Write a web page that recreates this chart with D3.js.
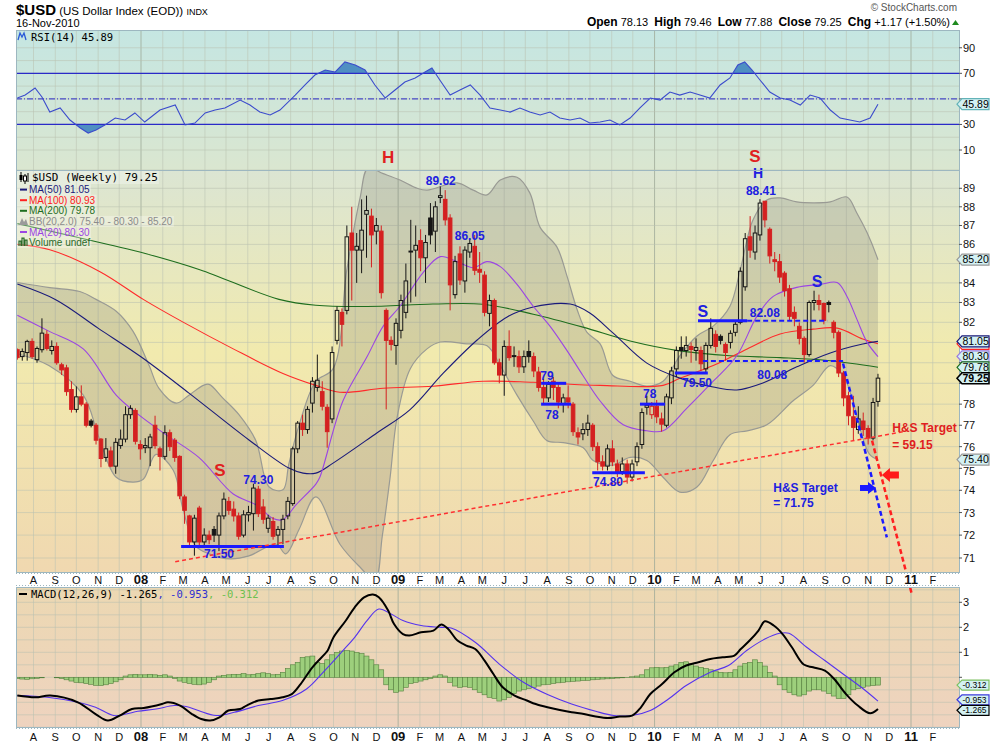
<!DOCTYPE html>
<html>
<head>
<meta charset="utf-8">
<title>$USD Weekly</title>
<script src="https://d3js.org/d3.v7.min.js"></script>
<style>
  body { margin: 0; background: #ffffff; }
  text { font-family: "Liberation Sans", Arial, sans-serif; }
  .mono { font-family: "DejaVu Sans Mono", monospace; }
</style>
</head>
<body>
<svg id="chart" width="990" height="744"></svg>
<script>
// ---------- data: weekly bars, first bar = week of 9 Jul 2007, last = week of 15 Nov 2010
var firstWeek = new Date(2007, 6, 9);

var opens = [80.64,80.3,80.5,81.05,80.15,80.64,81.4,80.6,80.8,79.9,
  79.75,78.7,77.75,78.35,78.0,77.2,77.0,76.35,75.5,75.8,
  75.1,76.05,76.35,77.5,77.7,76.1,75.95,75.95,77.0,75.9,
  75.55,76.65,76.3,75.55,73.7,72.85,71.7,73.2,71.7,72.0,
  72.25,72.0,72.85,73.5,73.15,72.85,72.0,72.9,72.95,74.05,
  73.25,72.3,72.6,72.0,72.25,72.85,73.4,75.9,77.1,76.8,
  78.05,78.8,78.6,77.85,77.3,81.1,82.5,82.6,86.6,85.7,
  85.7,87.6,87.5,86.7,86.7,82.6,81.1,80.85,81.6,82.5,
  85.6,85.7,86.2,85.3,87.4,86.7,88.5,88.4,87.4,83.4,
  85.5,84.1,85.6,85.9,84.7,84.4,82.45,83.1,80.0,79.4,
  80.8,80.3,80.3,79.8,80.55,80.3,79.55,78.8,78.3,79.1,
  78.8,78.0,78.3,78.0,76.65,76.6,76.8,77.0,76.0,75.3,
  75.1,75.9,75.2,74.85,75.2,74.6,75.3,76.1,77.85,77.5,
  77.9,77.3,77.0,78.3,79.7,80.75,80.6,80.8,80.6,80.6,
  79.7,80.85,81.4,81.3,80.9,81.0,81.5,82.0,83.8,86.4,
  85.6,86.5,88.3,86.8,85.2,85.1,84.5,83.7,82.5,81.8,
  81.2,80.4,83.0,83.1,82.95,83.0,82.0,81.5,79.5,78.4,
  77.4,76.8,77.2,76.85,76.4,78.13];
var highs = [80.7,80.7,81.13,81.2,80.8,82.2,81.6,81.1,81.0,80.0,
  79.9,79.1,78.85,78.9,78.1,77.3,77.1,76.4,76.4,76.0,
  76.4,76.8,77.9,77.95,77.8,76.3,76.4,76.6,77.45,76.0,
  77.0,76.8,76.4,75.6,73.8,72.9,72.9,73.3,72.3,72.2,
  72.4,73.0,73.9,73.7,73.5,73.0,73.1,73.3,74.3,74.2,
  73.6,72.9,72.8,72.4,72.9,73.7,76.0,77.2,77.5,77.9,
  79.3,80.4,79.1,78.0,80.8,82.8,82.7,87.0,88.0,86.6,
  88.4,88.6,87.9,87.4,87.0,82.7,81.3,82.2,83.4,85.0,
  87.3,87.0,86.8,86.5,88.2,88.3,89.1,88.9,87.6,85.4,
  85.9,85.9,86.3,86.5,85.6,84.6,83.4,83.2,80.2,81.1,
  81.6,80.8,80.6,80.6,81.1,80.5,79.8,79.2,79.1,79.3,
  79.0,78.5,78.9,78.1,76.9,77.1,77.5,77.1,76.2,75.6,
  76.1,76.3,75.4,75.5,75.4,75.4,76.2,77.8,78.4,78.1,
  78.2,77.6,78.5,79.8,80.8,81.3,81.3,81.0,81.2,80.8,
  81.0,82.2,81.6,81.4,81.0,81.6,82.1,84.8,86.6,87.5,
  87.0,88.41,88.3,86.9,85.6,85.5,84.6,83.9,82.8,82.0,
  81.3,83.1,83.6,83.4,83.0,83.1,82.1,81.6,79.6,78.6,
  78.4,77.9,77.6,77.0,78.3,79.46];
var lows = [80.15,80.1,80.1,80.2,80.0,80.5,80.6,80.4,79.9,79.4,
  78.4,77.6,77.6,77.9,76.9,76.9,76.1,75.05,75.3,75.05,
  74.75,75.9,76.2,77.3,76.1,75.4,75.7,75.1,75.9,74.9,
  75.4,75.8,75.3,73.6,72.5,71.5,71.1,71.5,71.5,71.6,
  71.7,71.3,72.7,72.9,72.6,71.8,71.9,72.6,72.2,72.8,
  72.5,72.1,71.8,71.45,71.6,72.7,73.3,75.7,76.5,76.6,
  77.6,78.6,77.7,75.95,77.1,80.9,80.8,82.4,83.1,84.0,
  84.5,85.3,84.8,86.0,83.2,77.75,80.6,79.9,81.2,82.2,
  83.0,83.3,84.6,84.0,86.0,85.6,88.2,87.0,82.6,83.2,
  83.9,83.5,85.3,84.4,84.0,82.3,81.8,79.9,79.0,78.4,
  80.1,79.8,79.5,79.5,80.0,79.3,78.6,78.0,78.1,78.2,
  77.8,77.6,77.8,76.5,76.1,76.3,76.5,75.8,74.9,74.9,
  74.9,75.1,74.6,74.7,74.3,74.4,75.1,75.9,77.5,77.3,
  77.1,76.7,76.9,78.0,79.3,80.2,80.3,80.0,80.1,79.6,
  79.5,80.7,80.5,80.9,80.1,80.7,81.3,81.9,83.6,85.3,
  85.2,86.2,86.9,85.0,84.6,84.0,83.3,82.1,81.8,80.9,
  80.0,80.3,82.6,82.6,81.9,82.5,81.2,79.3,77.9,77.0,
  76.3,76.6,76.5,76.1,76.3,77.88];
var closes = [80.25,80.55,81.05,80.3,80.7,81.46,80.7,80.8,80.0,79.65,
  78.6,77.75,78.35,78.0,77.0,77.0,76.3,75.45,75.9,75.1,
  76.2,76.35,77.5,77.8,76.25,75.9,76.05,76.45,76.05,75.55,
  76.65,76.0,75.5,73.75,73.1,71.7,72.75,71.7,72.0,71.8,
  72.0,72.85,73.6,73.1,72.85,71.95,72.9,73.0,74.1,72.95,
  72.7,72.75,71.95,72.25,72.7,73.5,75.9,77.1,76.8,77.75,
  79.1,79.15,77.9,76.7,80.5,82.6,81.9,86.4,85.7,85.9,
  86.75,87.8,86.5,87.0,83.5,81.1,80.9,81.95,83.1,84.1,
  85.65,85.95,85.3,86.1,86.5,88.0,88.6,87.3,83.9,85.1,
  84.15,85.7,86.05,84.65,84.55,82.5,83.1,80.0,79.4,80.8,
  80.25,80.35,79.8,80.3,80.3,79.6,78.8,78.3,78.95,78.8,
  78.1,78.3,78.1,76.7,76.45,76.8,77.1,76.0,75.3,75.1,
  75.9,75.3,74.85,75.2,74.6,75.2,76.0,77.6,77.95,77.9,
  77.4,77.05,78.35,79.6,80.6,80.6,80.85,80.65,80.75,79.95,
  80.85,81.7,80.8,81.1,80.5,81.45,81.9,84.6,86.3,85.7,
  86.6,88.2,87.3,85.4,85.1,84.3,83.6,82.3,82.2,81.2,
  80.4,83.0,83.1,82.9,82.1,82.9,81.5,79.5,78.3,77.45,
  76.9,77.3,76.8,76.4,78.08,79.25];

// overlays: [week index, value]
var ma20 = [[0,82.36],[6.4,81.56],[13.4,80.68],[20.1,78.43],[24.7,77.49],[30.2,76.56],[36.9,75.5],
  [43.9,73.83],[48.5,73.35],[52,72.73],[54,72.69],[56.7,73.35],[60.7,74.28],[61.5,74.59],[66.2,78.15],
  [71.1,80.29],[74.4,81.81],[77.8,82.81],[82.5,84.53],[86,85.36],[89.4,85.1],[92.7,84.78],[95.5,85.1],
  [98.2,84.84],[101.6,83.92],[104.9,82.81],[108.3,81.81],[111.8,80.58],[115,79.38],[118.5,78.15],
  [123.2,77.02],[128,76.74],[131.3,76.74],[136.2,77.82],[141.5,79.1],[146.3,80.34],[150.4,82.31],
  [153.7,83.31],[158.5,83.77],[163.2,83.92],[166.7,84.02],[168.7,83.31],[170.7,82.16],[172.8,81.0],[175,80.3]];
var ma50 = [[0,83.94],[7.9,83.13],[16.4,81.71],[25.2,80.28],[34.9,78.53],[47.1,76.31],[55.2,75.01],
  [58.1,74.78],[60.7,74.78],[64.2,75.24],[73.1,76.64],[79.8,77.73],[86.6,79.49],[93.5,81.12],[99.6,82.27],
  [104.9,82.77],[112.4,82.92],[116.4,82.47],[121.1,81.47],[128,79.98],[134.7,79.25],[141.5,78.82],
  [146.3,78.68],[151.6,79.02],[158.5,79.8],[165.3,80.48],[171.9,80.92],[175,81.05]];
var ma100 = [[0,86.0],[6.6,85.72],[16.8,84.58],[25.6,83.16],[33.7,82.01],[43.9,80.68],[54,79.48],
  [60.7,78.9],[65.6,78.57],[74.4,78.76],[84.5,78.86],[94.7,79.1],[104.9,79.05],[118.5,78.9],[131.3,78.9],
  [134.7,79.24],[141.5,79.86],[148.4,80.68],[155.1,81.42],[161.8,81.66],[166.7,81.71],[171.9,81.17],[175,80.93]];
var ma200 = [[0,87.1],[18.7,85.98],[26.2,85.51],[37.1,84.68],[53.2,83.16],[60.7,82.86],[71.1,82.8],
  [84.5,82.92],[94.7,82.91],[104.9,82.41],[115,81.76],[124.6,81.07],[134.7,80.58],[144.9,80.34],
  [155.1,80.25],[165.3,80.1],[175,79.78]];
var bbUpper = [[0,84.02],[6.6,83.76],[12.7,83.56],[16,83.16],[20.1,82.56],[23.5,81.56],[26.8,79.86],
  [28.8,78.76],[32.3,78.05],[34.9,78.43],[37.8,78.9],[39,78.95],[41.8,78.29],[45.1,77.49],[48.5,76.28],
  [51.2,74.15],[54,74.02],[55.2,75.19],[57.3,77.02],[60.7,79.1],[64.2,79.71],[67,84.68],[69.7,88.5],
  [71.3,90.1],[74.4,89.8],[77.8,89.45],[81.3,89.0],[83.3,88.9],[89.4,89.3],[92.7,88.9],[95.5,88.64],
  [98.2,89.45],[101.6,89.6],[104.2,88.75],[106.3,86.9],[109.7,85.87],[111.8,84.32],[113.8,82.66],
  [115.8,81.51],[118.5,80.93],[121.1,79.38],[124.6,79.1],[128,78.86],[131.3,79.1],[134.7,80.34],
  [138.2,81.32],[141.5,81.81],[144.9,82.81],[147,84.68],[149.6,87.3],[152.4,88.37],[155.1,88.48],
  [158.5,88.26],[161.8,88.21],[165.3,88.26],[168.7,88.53],[170.7,87.67],[172.8,86.61],[175,85.2]];
var bbLower = [[0,80.44],[6.4,79.86],[13.4,78.43],[16.6,76.42],[20.1,74.59],[23.5,74.37],[25.6,74.5],
  [28.2,75.64],[31.7,74.91],[33.7,73.13],[36.3,71.52],[39,71.18],[43.3,70.96],[47.1,71.09],[52.6,71.6],
  [54.6,71.18],[57.3,72.26],[60.7,73.7],[65.6,71.6],[69.7,70.6],[72.7,70.04],[74.2,71.95],[75.8,74.59],
  [77.2,77.35],[79.9,79.71],[83.3,80.68],[86,81.02],[91.4,80.93],[95.5,80.83],[98.2,79.86],[101.6,78.43],
  [104.9,77.2],[107.7,76.28],[111,76.19],[115,75.96],[117.1,75.36],[121.1,75.14],[124.6,75.5],
  [128,75.36],[131.3,74.59],[134.7,73.92],[138.2,74.15],[141.5,75.36],[144.9,76.56],[148.4,76.74],
  [152.4,77.02],[157.7,78.15],[161.8,78.9],[165.3,79.86],[167.9,79.38],[169.9,78.15],[171.3,76.88],
  [173.3,75.64],[175,75.4]];

var rsi = [[0,50.7],[1.6,53],[3.6,58.5],[5,51.5],[6.6,39.7],[8.7,42.9],[10.7,33.5],[12.8,27.2],[14.4,23.3],
  [16,25.7],[17.8,29.6],[19.9,35],[21.9,33.5],[23.9,39],[25.9,31.9],[29,41.3],[32.1,45.2],[34.1,29.6],
  [36.1,31.1],[38.2,39],[40.2,41.3],[42.2,42.9],[45.3,49.1],[47.3,45.2],[49.3,39.7],[51.4,37.4],
  [53.4,41.3],[56.5,53],[58.5,60.9],[60.5,68.7],[62.6,72.6],[64.6,71],[66.6,78.9],[68.7,76.5],
  [70.7,72.6],[72.7,60.9],[74.8,50.7],[76.8,57],[78.8,63.2],[80.9,66.4],[82.9,71],[84.3,74.2],
  [85.9,64.8],[88,53],[90,57],[92.1,60.9],[94.1,53],[96.1,42.9],[98.2,41.3],[100.2,39.7],[102.2,42.9],
  [104.2,39.7],[106.3,37.4],[108.3,39.7],[110.3,35],[112.4,33.5],[114.4,35],[116.4,31.1],[118.5,31.9],
  [120.5,33.5],[122.5,29.6],[124.6,35],[126.6,42.9],[128.7,50.7],[130.7,49.1],[132.7,55.4],[134.7,53],
  [136.8,55.4],[138.8,53],[140.8,50.7],[142.9,60.9],[144.9,66.4],[146.5,76.5],[147.9,78.9],[149.4,72.6],
  [151,64.8],[153,55.4],[155.1,50.7],[157.1,49.1],[159.2,45.2],[161.2,53],[163.2,50.7],[165.3,41.3],
  [167.3,35],[169.3,33.5],[171.3,31.9],[173.4,35],[175,45.89]];

var macdLine = [[0,-0.73],[3.7,-0.8],[6.7,-0.73],[12.3,-1.0],[15.9,-1.47],[18.4,-1.73],[20.8,-1.53],
  [23.3,-1.27],[25.7,-1.23],[29.4,-1.07],[30.6,-1.0],[33.1,-1.13],[35.5,-1.47],[37.4,-1.67],[39.2,-1.73],
  [41.1,-1.6],[42.9,-1.33],[45.3,-1.27],[46.6,-1.13],[49,-0.93],[51.5,-0.87],[53.9,-0.8],[55.8,-0.67],
  [57.6,-0.27],[60,0.4],[62.5,0.93],[63.1,1.07],[64.3,1.6],[66.8,2.27],[68.6,2.8],[70.5,3.2],[72.3,3.31],
  [73.5,3.2],[75.4,2.67],[76.6,2.13],[78.4,1.73],[79.7,1.67],[82.1,1.8],[84.6,1.87],[86.2,2.11],[87.6,1.93],
  [89.5,1.47],[91.3,1.27],[93.1,1.13],[95,0.67],[96.8,0.13],[98.7,-0.4],[101.1,-0.73],[103.6,-0.93],
  [105.4,-1.07],[107.8,-1.2],[110.3,-1.31],[112.7,-1.4],[115.2,-1.47],[117.6,-1.57],[120.1,-1.63],
  [122.5,-1.57],[125,-1.53],[126.8,-1.2],[128.7,-0.67],[131.1,-0.27],[133.6,0.2],[136,0.47],[138.5,0.6],
  [140.9,0.73],[143.4,0.8],[145.8,0.87],[147.1,1.13],[148.9,1.47],[150.7,1.87],[152,2.24],[153.8,2.07],
  [155.6,1.73],[157.5,1.2],[159.9,0.51],[161.8,0.4],[164.2,0.27],[166.1,-0.07],[168.5,-0.67],[170.9,-1.13],
  [173.4,-1.44],[175,-1.265]];
var macdSignal = [[0,-0.73],[6.1,-0.8],[12.3,-1.0],[15.9,-1.2],[19.6,-1.53],[22.1,-1.47],[24.5,-1.36],
  [28.2,-1.27],[31.9,-1.13],[34.3,-1.17],[36.8,-1.33],[40.4,-1.53],[44.1,-1.4],[49,-1.13],[53.9,-0.93],
  [58.8,-0.47],[62.5,0.27],[66.2,1.07],[68.6,1.6],[71.1,2.27],[73.5,2.73],[76,2.53],[78.4,2.27],[82.1,2.07],
  [85.8,2.0],[88.2,1.97],[93.1,1.4],[98,0.53],[102.9,-0.2],[107.8,-0.69],[112.7,-1.07],[117.6,-1.36],
  [121.3,-1.53],[125,-1.53],[128.7,-1.33],[132.4,-0.87],[136,-0.33],[140.9,0.2],[144.6,0.47],[148.3,1.07],
  [152,1.53],[155,1.76],[156.9,1.76],[160.5,1.2],[164.2,0.67],[167.9,0.13],[171.6,-0.4],[175,-0.953]];
var macdHist = [-0.05,-0.07,-0.08,-0.06,-0.04,-0.02,0.0,0.0,-0.02,-0.05,
  -0.1,-0.15,-0.2,-0.22,-0.25,-0.28,-0.32,-0.33,-0.3,-0.25,-0.18,-0.1,
  0.05,0.1,0.12,0.1,0.1,0.12,0.1,0.08,0.1,0.05,
  -0.05,-0.15,-0.2,-0.25,-0.28,-0.3,-0.27,-0.2,-0.1,
  0.05,0.08,0.1,0.12,0.12,0.15,0.1,0.12,0.15,0.18,0.15,0.1,0.12,
  0.2,0.35,0.5,0.6,0.8,0.82,0.85,0.6,0.55,0.7,0.9,
  1.0,1.05,1.07,1.05,1.0,0.95,0.85,0.7,0.5,0.3,
  -0.3,-0.5,-0.6,-0.55,-0.4,-0.25,-0.2,-0.15,-0.1,-0.05,0.05,0.1,0.05,
  -0.2,-0.35,-0.4,-0.38,-0.4,-0.5,-0.6,-0.7,-0.8,-0.85,-0.95,-0.9,-0.8,
  -0.65,-0.55,-0.5,-0.45,-0.4,-0.35,-0.3,-0.28,
  -0.25,-0.22,-0.2,-0.18,-0.16,-0.15,-0.13,-0.12,-0.1,-0.08,-0.07,-0.06,-0.05,-0.03,-0.02,-0.01,
  0.02,0.05,0.1,0.3,0.38,0.4,0.38,0.4,0.45,0.5,
  0.6,0.62,0.55,0.45,0.4,0.35,0.3,0.25,0.2,0.18,0.2,0.3,
  0.45,0.55,0.6,0.7,0.6,0.45,0.2,0.05,
  -0.3,-0.5,-0.6,-0.7,-0.75,-0.7,-0.55,-0.5,-0.5,-0.55,-0.65,
  -0.75,-0.85,-0.85,-0.7,-0.5,-0.45,-0.4,-0.35,-0.33,-0.312];

// tick labels and right-hand value tags
var priceTicks = d3.range(71, 90);
var rsiTicks = [10, 30, 50, 70, 90];
var macdTicks = [0, 1, 2, 3];
var mainTags = [[85.20, "#999999"], [80.93, "#ff2020"], [81.05, "#1a1a7a"], [80.30, "#9b7ae0"],
  [79.78, "#1e6e1e"], [79.25, "#000000"], [75.40, "#999999"]];
var rsiTags = [[45.89, "#63b3b8"]];
var macdTags = [[-0.312, "#7cc060"], [-0.953, "#3c3cdc"], [-1.265, "#000000"]];

// hand-drawn annotations: [from week, to week, price, dashed]
var levelLines = [[33.3, 54.2, 71.5, false], [116.9, 127.6, 74.8, false], [106.5, 111.6, 79, false],
  [106.5, 112.6, 78, false], [126.6, 131.7, 78, false], [133.7, 140.4, 79.5, false],
  [138.4, 148.4, 82.08, false], [148.4, 164.7, 82.08, true], [139.4, 167.9, 80.08, true]];
var noteTexts = [["H", 75.4, 90.7, "#e02020", 17], ["S", 150, 90.8, "#e02020", 17], ["H", 150.6, 89.85, "#2020e0", 14],
  ["89.62", 86.1, 89.4, "#2020e0", 12], ["86.05", 92.0, 86.45, "#2020e0", 12], ["88.41", 151.2, 88.85, "#2020e0", 12],
  ["S", 41.2, 74.91, "#e02020", 17], ["74.30", 49.0, 74.5, "#2020e0", 12], ["71.50", 41.0, 71.18, "#2020e0", 12],
  ["79", 107.7, 79.38, "#2020e0", 12], ["78", 108.7, 77.49, "#2020e0", 12], ["78", 128.6, 78.48, "#2020e0", 12],
  ["74.80", 120.1, 74.37, "#2020e0", 12], ["S", 139.4, 82.56, "#2020e0", 16], ["S", 162.6, 84.07, "#2020e0", 16],
  ["82.08", 152.0, 82.47, "#2020e0", 12], ["79.50", 138.2, 79.02, "#2020e0", 12], ["80.08", 153.5, 79.43, "#2020e0", 12]];
var targetNotes = [["H&S Target", 177.9, 76.9, "#e02020"], ["= 59.15", 177.9, 76.1, "#e02020"],
  ["H&S Target", 153.7, 74.1, "#2020e0"], ["= 71.75", 153.7, 73.45, "#2020e0"]];
var neckLine = [[32.1, 70.84], [180.7, 76.72]];
var blueTarget = [[167.9, 79.96], [176.8, 71.9]];
var redTarget = [[173.8, 76.28], [181.9, 69.43]];

// ---------- layout
var left = 16, right = 959;
var rsiTop = 30, rsiBottom = 170, mainTop = 170, mainBottom = 572, macdTop = 587, macdBottom = 727;

var svg = d3.select("#chart");
var defs = svg.append("defs");

var x = d3.scaleTime().domain([new Date(2008, 0, 1), new Date(2011, 0, 1)]).range([141, 911]);
var y = d3.scaleLog().domain([71, 89]).range([558, 188.3]);
var yRsi = d3.scaleLinear().domain([0, 100]).range([162.8, 35]);
var yMacd = d3.scaleLinear().domain([0, 3]).range([677.3, 602.3]);

function weekDate(i) {
  return new Date(firstWeek.getTime() + i * 7 * 864e5);
}
function wx(i) {
  return x(weekDate(i));
}

function grad(id, stops) {
  var g = defs.append("linearGradient").attr("id", id)
    .attr("x1", 0).attr("y1", 0).attr("x2", 0).attr("y2", 1);
  stops.forEach(function (s) {
    g.append("stop").attr("offset", s[0]).attr("stop-color", s[1]);
  });
}
grad("gRsi", [[0, "#c5e6e2"], [1, "#dae6d0"]]);
grad("gMain", [[0, "#dbe5d3"], [0.45, "#f1eaae"], [1, "#f0d8b0"]]);
grad("gMacd", [[0, "#ecd8b2"], [1, "#eed3bf"]]);

function clip(id, y0, y1) {
  defs.append("clipPath").attr("id", id).append("rect")
    .attr("x", left).attr("y", y0).attr("width", right - left).attr("height", y1 - y0);
}
clip("cRsi", rsiTop, rsiBottom);
clip("cMain", mainTop, mainBottom);
clip("cMacd", macdTop, macdBottom);
clip("cRsiHi", rsiTop, yRsi(70));
clip("cRsiLo", yRsi(30), rsiBottom);

// panel backgrounds
svg.append("rect").attr("x", left).attr("y", rsiTop).attr("width", right - left).attr("height", rsiBottom - rsiTop).attr("fill", "url(#gRsi)");
svg.append("rect").attr("x", left).attr("y", mainTop).attr("width", right - left).attr("height", mainBottom - mainTop).attr("fill", "url(#gMain)");
svg.append("rect").attr("x", left).attr("y", macdTop).attr("width", right - left).attr("height", macdBottom - macdTop).attr("fill", "url(#gMacd)");

// month grid (labels stop at Feb 2011 like the original)
var months = d3.timeMonth.range(new Date(2007, 7, 1), new Date(2011, 2, 1))
  .filter(function (d) { return x(d) > left && x(d) < right; });

function vGrid(y0, y1) {
  svg.append("g").selectAll("line").data(months).join("line")
    .attr("x1", function (d) { return x(d); }).attr("x2", function (d) { return x(d); })
    .attr("y1", y0).attr("y2", y1)
    .attr("stroke", function (d) { return d.getMonth() == 0 ? "#9faa98" : "#b9c1b0"; })
    .attr("stroke-opacity", function (d) { return d.getMonth() == 0 ? 0.8 : 0.55; });
}
function hGrid(vals, scale) {
  svg.append("g").selectAll("line").data(vals).join("line")
    .attr("x1", left).attr("x2", right)
    .attr("y1", function (d) { return scale(d); }).attr("y2", function (d) { return scale(d); })
    .attr("stroke", "#b9c1b0").attr("stroke-opacity", 0.55);
}
vGrid(rsiTop, rsiBottom);
vGrid(mainTop, mainBottom);
vGrid(macdTop, macdBottom);
hGrid(d3.range(10, 100, 10), yRsi);
hGrid(d3.range(70, 91), y);
hGrid(d3.range(-2, 3.6, 0.5), yMacd);

// ---------- RSI panel
var rsiG = svg.append("g").attr("clip-path", "url(#cRsi)");
var rsiLine = d3.line().x(function (d) { return wx(d[0]); }).y(function (d) { return yRsi(d[1]); });
rsiG.append("path").datum(rsi).attr("clip-path", "url(#cRsiHi)")
  .attr("d", d3.area().x(function (d) { return wx(d[0]); }).y0(yRsi(70)).y1(function (d) { return yRsi(d[1]); }))
  .attr("fill", "#4f8fc2");
rsiG.append("path").datum(rsi).attr("clip-path", "url(#cRsiLo)")
  .attr("d", d3.area().x(function (d) { return wx(d[0]); }).y0(yRsi(30)).y1(function (d) { return yRsi(d[1]); }))
  .attr("fill", "#4f8fc2");
[70, 30].forEach(function (v) {
  rsiG.append("line").attr("x1", left).attr("x2", right).attr("y1", yRsi(v)).attr("y2", yRsi(v))
    .attr("stroke", "#2a2ac8").attr("stroke-width", 1.2);
});
rsiG.append("line").attr("x1", left).attr("x2", right).attr("y1", yRsi(50)).attr("y2", yRsi(50))
  .attr("stroke", "#2a2ac8").attr("stroke-dasharray", "6,2,1,2");
rsiG.append("path").datum(rsi).attr("d", rsiLine).attr("fill", "none").attr("stroke", "#3b4bcc").attr("stroke-width", 1.1);

// ---------- main panel
var mainG = svg.append("g").attr("clip-path", "url(#cMain)");
var bandLine = d3.line().x(function (d) { return wx(d[0]); }).y(function (d) { return y(d[1]); }).curve(d3.curveCatmullRom);
var upPath = bandLine(bbUpper);
var loPath = bandLine(bbLower.slice().reverse());
mainG.append("path").attr("d", upPath + "L" + loPath.substring(1) + "Z")
  .attr("fill", "#7a7a70").attr("fill-opacity", 0.24);
[upPath, bandLine(bbLower)].forEach(function (p) {
  mainG.append("path").attr("d", p).attr("fill", "none").attr("stroke", "#999a94").attr("stroke-width", 1.2);
});

var maLine = d3.line().x(function (d) { return wx(d[0]); }).y(function (d) { return y(d[1]); }).curve(d3.curveCatmullRom);
[[ma200, "#1e6e1e"], [ma100, "#ff2a2a"], [ma50, "#1a1a7a"], [ma20, "#9b45e4"]].forEach(function (m) {
  mainG.append("path").datum(m[0]).attr("d", maLine).attr("fill", "none").attr("stroke", m[1]).attr("stroke-width", 1.1);
});

// candlesticks
var bars = opens.map(function (o, i) {
  return { date: weekDate(i), open: o, high: highs[i], low: lows[i], close: closes[i],
    prev: i > 0 ? closes[i - 1] : o };
});
function candleColor(d) {
  return d.close >= d.prev ? "#161616" : "#d42020";
}
var candle = mainG.append("g").selectAll("g").data(bars).join("g");
candle.append("line")
  .attr("x1", function (d) { return x(d.date); }).attr("x2", function (d) { return x(d.date); })
  .attr("y1", function (d) { return y(d.high); })
  .attr("y2", function (d) { return y(Math.max(d.open, d.close)); })
  .attr("stroke", candleColor);
candle.append("line")
  .attr("x1", function (d) { return x(d.date); }).attr("x2", function (d) { return x(d.date); })
  .attr("y1", function (d) { return y(Math.min(d.open, d.close)); })
  .attr("y2", function (d) { return y(d.low); })
  .attr("stroke", candleColor);
candle.append("rect")
  .attr("x", function (d) { return x(d.date) - 1.8; })
  .attr("width", 3.6)
  .attr("y", function (d) { return y(Math.max(d.open, d.close)); })
  .attr("height", function (d) { return Math.max(0.8, y(Math.min(d.open, d.close)) - y(Math.max(d.open, d.close))); })
  .attr("fill", function (d) { return d.close >= d.open ? "none" : candleColor(d); })
  .attr("stroke", candleColor).attr("stroke-width", 1);

// annotations
mainG.append("g").selectAll("line").data(levelLines).join("line")
  .attr("x1", function (d) { return wx(d[0]); }).attr("x2", function (d) { return wx(d[1]); })
  .attr("y1", function (d) { return y(d[2]); }).attr("y2", function (d) { return y(d[2]); })
  .attr("stroke", "#1a1aff").attr("stroke-width", function (d) { return d[3] ? 2 : 3; })
  .attr("stroke-dasharray", function (d) { return d[3] ? "5,3" : null; });

var pxLine = d3.line().x(function (d) { return wx(d[0]); }).y(function (d) { return y(d[1]); });
mainG.append("path").attr("d", pxLine(neckLine)).attr("stroke", "#ff3030").attr("stroke-width", 1.5)
  .attr("stroke-dasharray", "4,3").attr("fill", "none");
mainG.append("path").attr("d", pxLine(blueTarget)).attr("stroke", "#1a1aff").attr("stroke-width", 2.5)
  .attr("stroke-dasharray", "5,3").attr("fill", "none");
svg.append("path").attr("d", pxLine(redTarget)).attr("stroke", "#ff2020").attr("stroke-width", 2.5)
  .attr("stroke-dasharray", "5,3").attr("fill", "none");

// target arrows
var bx = wx(174.6), by = y(74.1);
svg.append("path").attr("fill", "#1a1aff")
  .attr("d", "M" + bx + "," + by + " l-8,-6 v3 h-8 v6 h8 v3 Z");
var rx = wx(175.8), ry = y(74.7);
svg.append("path").attr("fill", "#ff1a1a")
  .attr("d", "M" + rx + "," + ry + " l8,-7 v3.5 h9 v7 h-9 v3.5 Z");

svg.append("g").selectAll("text").data(noteTexts).join("text")
  .attr("x", function (d) { return wx(d[1]); }).attr("y", function (d) { return y(d[2]); })
  .attr("dy", "0.36em").attr("text-anchor", "middle")
  .attr("fill", function (d) { return d[3]; })
  .style("font-size", function (d) { return d[4] + "px"; }).style("font-weight", "bold")
  .text(function (d) { return d[0]; });
svg.append("g").selectAll("text").data(targetNotes).join("text")
  .attr("x", function (d) { return wx(d[1]); }).attr("y", function (d) { return y(d[2]); })
  .attr("dy", "0.36em").attr("fill", function (d) { return d[3]; })
  .style("font-size", "12px").style("font-weight", "bold")
  .text(function (d) { return d[0]; });

// ---------- MACD panel
var macdG = svg.append("g").attr("clip-path", "url(#cMacd)");
var bw = wx(1) - wx(0);
macdG.append("g").selectAll("rect").data(macdHist).join("rect")
  .attr("x", function (d, i) { return wx(i) - bw / 2; })
  .attr("width", bw)
  .attr("y", function (d) { return Math.min(yMacd(d), yMacd(0)); })
  .attr("height", function (d) { return Math.abs(yMacd(d) - yMacd(0)); })
  .attr("fill", "#9dcf7c").attr("stroke", "#55803f").attr("stroke-width", 0.6);
var macdPath = d3.line().x(function (d) { return wx(d[0]); }).y(function (d) { return yMacd(d[1]); }).curve(d3.curveCatmullRom);
macdG.append("path").datum(macdSignal).attr("d", macdPath).attr("fill", "none").attr("stroke", "#5533ee").attr("stroke-width", 1.1);
macdG.append("path").datum(macdLine).attr("d", macdPath).attr("fill", "none").attr("stroke", "#000").attr("stroke-width", 2);

// ---------- borders and axis band
svg.append("rect").attr("x", left).attr("y", mainBottom).attr("width", right - left).attr("height", macdTop - mainBottom).attr("fill", "#fff");
[[rsiTop, rsiBottom], [mainTop, mainBottom], [macdTop, macdBottom]].forEach(function (p) {
  svg.append("rect").attr("x", left + 0.5).attr("y", p[0] + 0.5).attr("width", right - left).attr("height", p[1] - p[0])
    .attr("fill", "none").attr("stroke", "#9db7c0");
});
[mainBottom + 1.5, macdTop - 1.5, macdBottom + 1.5].forEach(function (yy) {
  svg.append("line").attr("x1", left).attr("x2", right).attr("y1", yy).attr("y2", yy)
    .attr("stroke", "#9db7c0").attr("stroke-dasharray", "1,2");
});

function monthLabel(d) {
  return d.getMonth() == 0 ? d3.timeFormat("%y")(d) : d3.timeFormat("%b")(d).charAt(0);
}
[584, 741].forEach(function (yy) {
  svg.append("g").selectAll("text").data(months).join("text")
    .attr("x", function (d) { return x(d); }).attr("y", yy).attr("text-anchor", "middle")
    .style("font-size", function (d) { return d.getMonth() == 0 ? "13px" : "11px"; })
    .style("font-weight", function (d) { return d.getMonth() == 0 ? "bold" : "normal"; })
    .attr("fill", "#111").text(monthLabel);
});

// value tags: spread them a little so neighbouring tags stay readable
function tagPositions(tags, scale, gap) {
  var pos = tags.map(function (t) { return { v: t[0], c: t[1], yc: scale(t[0]) }; });
  var sorted = pos.filter(function (p) { return p.v != 80.93; }).sort(function (a, b) { return a.yc - b.yc; });
  for (var k = 1; k < sorted.length; k++) {
    var d = sorted[k].yc - sorted[k - 1].yc;
    if (d < gap) {
      sorted[k - 1].yc -= (gap - d) / 2;
      sorted[k].yc += (gap - d) / 2;
    }
  }
  return pos;
}
var mainPos = tagPositions(mainTags, y, 11);
var rsiPos = tagPositions(rsiTags, yRsi, 11);
var macdPos = tagPositions(macdTags, yMacd, 10.5);

// right axes: labels hidden behind a tag are left out, labels just touching one are nudged away
function rightAxis(vals, scale, pos) {
  var g = svg.append("g");
  g.selectAll("line").data(vals).join("line")
    .attr("x1", right).attr("x2", right + 3)
    .attr("y1", function (d) { return scale(d); }).attr("y2", function (d) { return scale(d); })
    .attr("stroke", "#555");
  var shown = [];
  vals.forEach(function (v) {
    var ty = scale(v), keep = true;
    pos.forEach(function (p) {
      var d = ty - p.yc;
      if (Math.abs(d) <= 8) keep = false;
      else if (Math.abs(d) < 11.5) ty = p.yc + (d > 0 ? 11.5 : -11.5);
    });
    if (keep) shown.push([v, ty]);
  });
  g.selectAll("text").data(shown).join("text")
    .attr("x", right + 4).attr("y", function (d) { return d[1]; }).attr("dy", "0.36em")
    .style("font-size", "11px").attr("fill", "#111").text(function (d) { return d[0]; });
}
rightAxis(priceTicks, y, mainPos);
rightAxis(rsiTicks, yRsi, rsiPos);
rightAxis(macdTicks, yMacd, macdPos);

function tag(p, opts) {
  var yc = p.yc, hh = opts.half;
  svg.append("path")
    .attr("d", "M" + (right - 2) + "," + yc + " L" + (right + 3) + "," + (yc - hh) + " L989,"
      + (yc - hh) + " L989," + (yc + hh) + " L" + (right + 3) + "," + (yc + hh) + " Z")
    .attr("fill", "#d3f1f3").attr("stroke", p.c).attr("stroke-width", opts.bold ? 1.6 : 1.2);
  if (opts.hidden) return;
  svg.append("text").attr("x", right + 3.5).attr("y", yc).attr("dy", "0.36em")
    .style("font-size", opts.size + "px").style("font-weight", opts.bold ? "bold" : "normal")
    .attr("fill", "#000").text(p.v.toFixed(p.v < 0 ? 3 : 2));
}
mainPos.forEach(function (p) {
  // 80.93 sits under 81.05 and only its red edge shows
  tag(p, { half: 5.5, size: 10.5, bold: p.v == 79.25, hidden: p.v == 80.93 });
});
rsiPos.forEach(function (p) { tag(p, { half: 5.5, size: 10.5 }); });
macdPos.forEach(function (p) { tag(p, { half: 5, size: 8.5 }); });

// ---------- header
var head = svg.append("text").attr("x", 16).attr("y", 15);
head.append("tspan").style("font-size", "15px").style("font-weight", "bold").text("$USD");
head.append("tspan").style("font-size", "11.5px").text(" (US Dollar Index (EOD)) ");
head.append("tspan").style("font-size", "9px").text("INDX");
svg.append("text").attr("x", 16).attr("y", 27).style("font-size", "11px").text("16-Nov-2010");
svg.append("text").attr("x", 957).attr("y", 11).attr("text-anchor", "end")
  .style("font-size", "10px").attr("fill", "#555").text("\u00a9 StockCharts.com");

var quote = svg.append("text").attr("x", 950).attr("y", 26).attr("text-anchor", "end").style("font-size", "11px");
[["Open", " 78.13  "], ["High", " 79.46  "], ["Low", " 77.88  "], ["Close", " 79.25  "], ["Chg", " +1.17 (+1.50%)"]]
  .forEach(function (q) {
    quote.append("tspan").style("font-weight", "bold").style("font-size", "12px").text(q[0]);
    quote.append("tspan").attr("xml:space", "preserve").text(q[1]);
  });
svg.append("path").attr("d", "M952,25 l3.5,-5 l3.5,5 Z").attr("fill", "#1e8a1e");

// ---------- legends
// RSI legend
svg.append("path").attr("d", "M18,40 l2,-7 l2,4 l2,-4 l2,7").attr("fill", "none").attr("stroke", "#2a5ad8").attr("stroke-width", 1.3);
svg.append("text").attr("class", "mono").attr("x", 31).attr("y", 41).style("font-size", "10.5px").text("RSI(14) 45.89");

// main legend
var legendRows = [
  ["$USD (Weekly) 79.25", "#000", "candle"],
  ["MA(50) 81.05", "#1a1a7a", "dash"],
  ["MA(100) 80.93", "#ff2020", "dash"],
  ["MA(200) 79.78", "#1e6e1e", "dash"],
  ["BB(20,2.0) 75.40 - 80.30 - 85.20", "#8c8c8c", "hill"],
  ["MA(20) 80.30", "#9b45e4", "dash"],
  ["Volume undef", "#2a6a2a", "vol"]
];
var legG = svg.append("g");
legendRows.forEach(function (r, i) {
  var yy = i == 0 ? 181 : 182.5 + i * 10.6;
  var t = legG.append("text").attr("x", i == 0 ? 32 : 29).attr("y", yy)
    .attr("fill", r[1]).style("font-size", i == 0 ? "11px" : "10px").text(r[0]);
  if (i == 0) t.attr("class", "mono");
  var bb = t.node().getBBox();
  legG.insert("rect", "text").attr("x", 17).attr("y", bb.y).attr("width", bb.x + bb.width - 17 + 1).attr("height", bb.height)
    .attr("fill", "#ffffff").attr("fill-opacity", 0.3);
  if (r[2] == "dash") {
    legG.append("line").attr("x1", 20).attr("x2", 27).attr("y1", yy - 3.5).attr("y2", yy - 3.5)
      .attr("stroke", r[1]).attr("stroke-width", 2);
  } else if (r[2] == "candle") {
    legG.append("path").attr("d", "M21,172 v10 M25,174 v10 M28,173 v9").attr("stroke", "#000").attr("stroke-width", 1);
    legG.append("rect").attr("x", 19.5).attr("y", 175).attr("width", 3).attr("height", 5).attr("fill", "#000");
    legG.append("rect").attr("x", 23.5).attr("y", 176).attr("width", 3).attr("height", 5).attr("fill", "#fff").attr("stroke", "#000");
  } else if (r[2] == "hill") {
    legG.append("path").attr("d", "M19," + yy + " l3,-7 l2,4 l2,-3 l2,6 Z").attr("fill", "#9a9a9a");
  } else {
    legG.append("path").attr("d", "M19," + yy + " v-5 h2 v5 M22," + yy + " v-8 h2 v8 M25," + yy + " v-6 h2 v6")
      .attr("fill", "none").attr("stroke", r[1]).attr("stroke-width", 1.2);
  }
});

// MACD legend
svg.append("line").attr("x1", 19).attr("x2", 27).attr("y1", 594).attr("y2", 594).attr("stroke", "#000").attr("stroke-width", 2);
var macdLeg = svg.append("text").attr("class", "mono").attr("x", 31).attr("y", 598).style("font-size", "10.5px");
macdLeg.append("tspan").attr("fill", "#000").text("MACD(12,26,9) -1.265");
macdLeg.append("tspan").attr("fill", "#3030d0").text(", -0.953");
macdLeg.append("tspan").attr("fill", "#6cc050").text(", -0.312");
</script>
</body>
</html>
